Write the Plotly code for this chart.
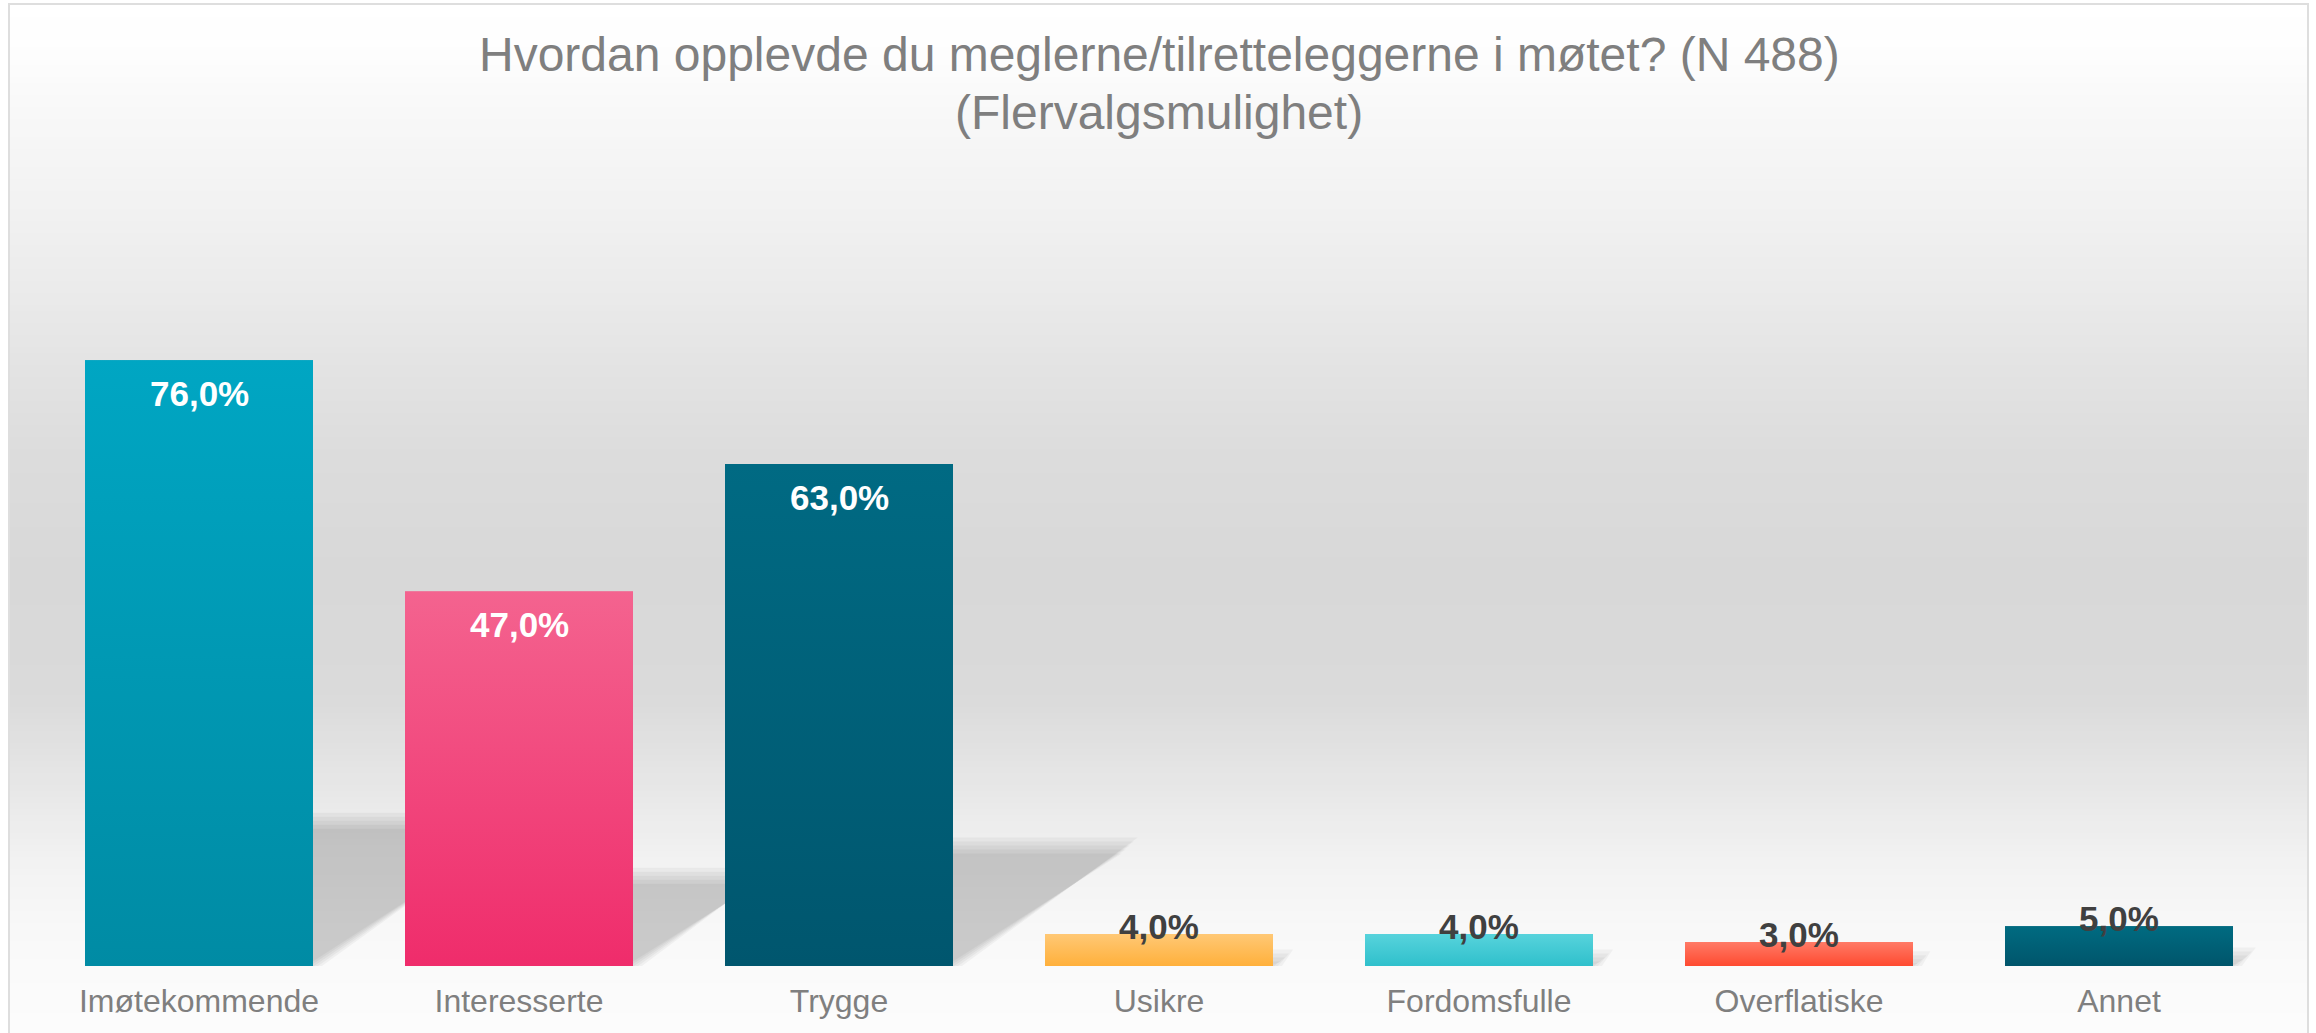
import plotly.graph_objects as go

# ---------------- data ----------------
categories = ["Imøtekommende", "Interesserte", "Trygge", "Usikre",
              "Fordomsfulle", "Overflatiske", "Annet"]
values = [0.76, 0.47, 0.63, 0.04, 0.04, 0.03, 0.05]
value_labels = ["76,0%", "47,0%", "63,0%", "4,0%", "4,0%", "3,0%", "5,0%"]
bar_colors = ["#0099B4", "#F24A7E", "#005F78", "#FFBC58",
              "#42C9D4", "#FF634B", "#00607A"]
bar_top_colors = ["#00A6C3", "#F4638F", "#006A83", "#FFC875",
                  "#57D3DC", "#FF7A66", "#006B81"]
bar_bottom_colors = ["#008BA4", "#EF2C6B", "#00566E", "#FFB03B",
                     "#2FC0CC", "#FF4A30", "#00556B"]
title_lines = ["Hvordan opplevde du meglerne/tilretteleggerne i møtet? (N 488)",
               "(Flervalgsmulighet)"]

# ---------------- layout geometry ----------------
W, H = 2316, 1033
ML, MR, MT, MB = 39, 37, 169, 67
PW, PH = W - ML - MR, H - MT - MB
BARGAP = 0.2875
BAR_W = 1 - BARGAP
FONT = "Arial, 'Liberation Sans', sans-serif"
PX_PER_X = PW / len(categories)
PX_PER_Y = PH / 1.0


def px2x(px):
    return (px - ML) / PW


def py2y(py):
    return (H - MB - py) / PH


fig = go.Figure()
xs = list(range(len(categories)))
fig.add_trace(go.Bar(
    x=xs, y=values,
    marker=dict(color=bar_colors, line=dict(width=0)),
    width=BAR_W, hoverinfo="skip", showlegend=False,
))

# vertical colour gradient on each bar (same extent as the bar)
for i, v in enumerate(values):
    xl, xr = i - BAR_W / 2, i + BAR_W / 2
    fig.add_trace(go.Scatter(
        x=[xl, xr, xr, xl, xl], y=[0, 0, v, v, 0], mode="none", fill="toself",
        fillgradient=dict(type="vertical",
                          colorscale=[[0, bar_bottom_colors[i]], [1, bar_top_colors[i]]]),
        hoverinfo="skip", showlegend=False,
    ))

shapes = []

# background vertical gradient (stepped stripes) inside the frame
stops = [(0, 255), (60, 253), (100, 249), (200, 242), (278, 236), (380, 226),
         (456, 220), (574, 216), (693, 218), (752, 226), (812, 235),
         (871, 243), (930, 248), (990, 251), (1040, 252)]


def gray_at(py):
    for (y0, g0), (y1, g1) in zip(stops[:-1], stops[1:]):
        if y0 <= py <= y1:
            t = (py - y0) / (y1 - y0)
            return g0 + (g1 - g0) * t
    return stops[-1][1]


step = 6
py = 5
while py < H:
    g = int(round(gray_at(py + step / 2)))
    shapes.append(dict(type="rect", xref="paper", yref="paper", layer="below",
                       x0=px2x(10), x1=px2x(2307), y0=py2y(py + step + 0.6), y1=py2y(py),
                       line=dict(width=0), fillcolor=f"rgb({g},{g},{g})"))
    py += step

# frame
shapes.append(dict(type="rect", xref="paper", yref="paper", layer="below",
                   x0=px2x(9), x1=px2x(2308), y0=py2y(H + 10), y1=py2y(4),
                   line=dict(color="#dedede", width=2), fillcolor="rgba(0,0,0,0)"))

# soft floor shadows behind bars (derived from bar values)
for i, v in enumerate(values):
    hgt = 0.238 * v
    dx = 0.872 * v
    for gpx in [9, 5, 1, -3, -7]:
        gx, gy = gpx / PX_PER_X, gpx / PX_PER_Y
        top = max(hgt + gy, 0.0005)
        xl = i - BAR_W / 2
        xr = i + BAR_W / 2 + gx
        path = (f"M {xl},0 L {xr},0 L {xr + dx},{top} "
                f"L {xl + dx},{top} Z")
        shapes.append(dict(type="path", xref="x", yref="y", layer="below",
                           path=path, line=dict(width=0),
                           fillcolor="rgba(0,0,0,0.038)"))

annotations = []
# title (two lines, positioned individually)
for line, base in zip(title_lines, [71, 129]):
    annotations.append(dict(x=0.5, xref="paper", y=py2y(base - 16.6), yref="paper",
                            xanchor="center", yanchor="middle", text=line,
                            showarrow=False,
                            font=dict(family=FONT, size=48, color="#7f7f7f")))

for i, (v, lab) in enumerate(zip(values, value_labels)):
    if v >= 0.2:
        annotations.append(dict(x=i, y=v, xref="x", yref="y", text=f"<b>{lab}</b>",
                                showarrow=False, yanchor="top", yshift=-12,
                                font=dict(family=FONT, size=35, color="white")))
    else:
        annotations.append(dict(x=i, y=v, xref="x", yref="y", text=f"<b>{lab}</b>",
                                showarrow=False, yanchor="bottom", yshift=-14,
                                font=dict(family=FONT, size=35, color="#404040")))

fig.update_layout(
    width=W, height=H,
    margin=dict(l=ML, r=MR, t=MT, b=MB, pad=0),
    paper_bgcolor="white", plot_bgcolor="rgba(0,0,0,0)",
    xaxis=dict(range=[-0.5, len(categories) - 0.5], tickvals=xs,
               ticktext=categories, showgrid=False, zeroline=False, showline=False,
               ticks="", tickfont=dict(family=FONT, size=32, color="#7f7f7f"),
               ticklabelstandoff=13, fixedrange=True),
    yaxis=dict(range=[0, 1], visible=False, showgrid=False, zeroline=False, fixedrange=True),
    shapes=shapes, annotations=annotations,
    bargap=BARGAP, showlegend=False,
)

fig.write_html("out.html", config={"displayModeBar": False},
               post_script="document.body.style.margin='0';document.body.style.overflow='hidden';")
